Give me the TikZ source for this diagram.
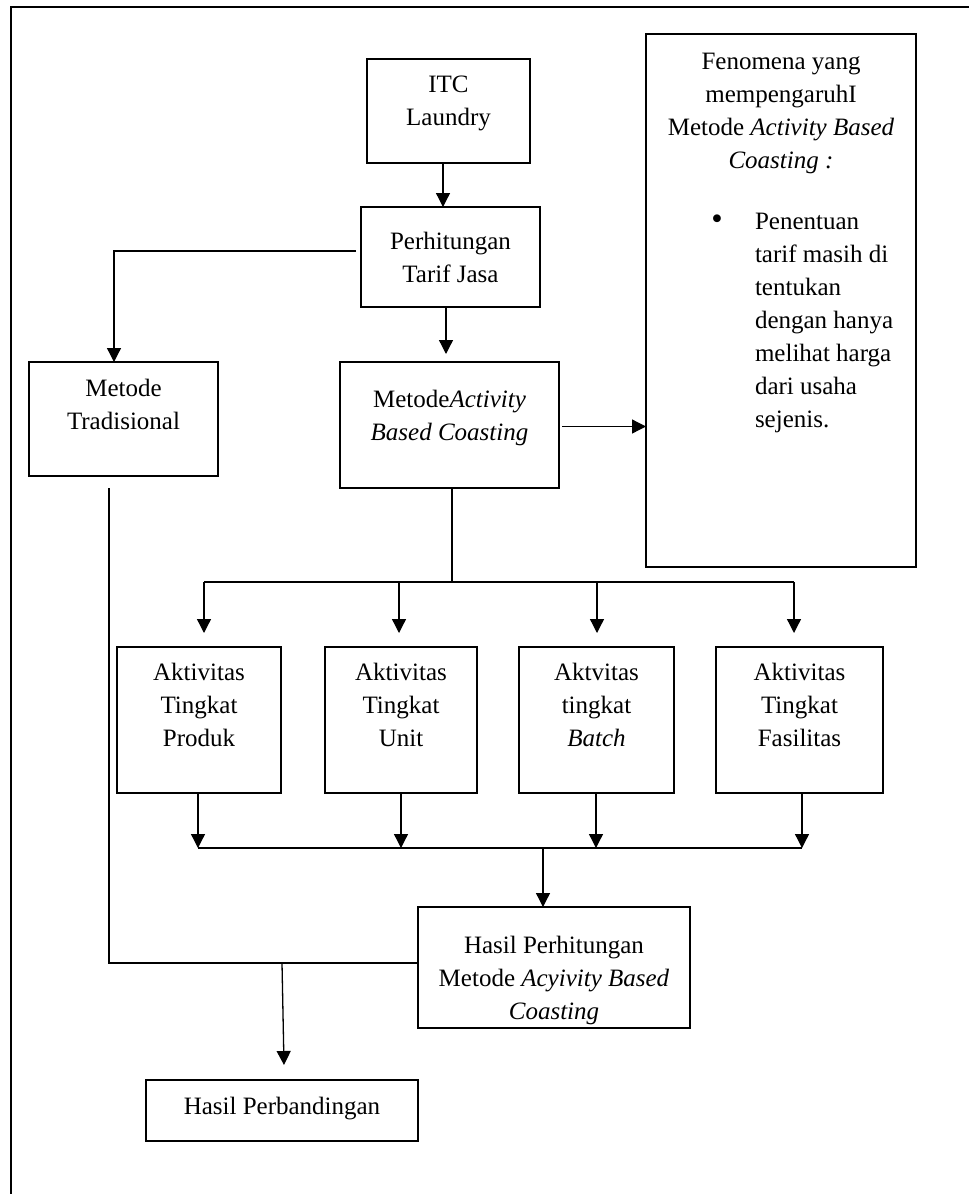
\documentclass[tikz,border=0pt]{standalone}
\usepackage{fontspec}
\setmainfont{Liberation Serif}
\usetikzlibrary{arrows.meta}
\newcommand\boxtxt[4]{\parbox[c][#2][t]{#1}{\centering\rule{0pt}{#3}#4\par}}
\begin{document}
\begin{tikzpicture}[x=1pt,y=-1pt,
  box/.style={draw, line width=1.3pt, inner sep=0pt, outer sep=0pt, font=\fontsize{25}{33}\selectfont},
  arr/.style={line width=1.3pt, -{Triangle[length=14pt,width=14pt]}},
  ln/.style={line width=1.3pt},
  frame/.style={line width=2.4pt}]
\useasboundingbox (0,0) rectangle (969,1194);
% frame
\draw[frame] (10,7) -- (969,7);
\draw[line width=1.6pt] (11,6) -- (11,1194);
% boxes
\node[box] (itc) at (448.5,111) {\boxtxt{163pt}{104pt}{33.3pt}{ITC\\Laundry}};
\node[box] (perh) at (450.5,257) {\boxtxt{179pt}{100pt}{42.5pt}{Perhitungan\\Tarif Jasa}};
\node[box] (trad) at (123.5,419) {\boxtxt{189pt}{114pt}{34pt}{Metode\\Tradisional}};
\node[box] (abc) at (449.5,425) {\boxtxt{219pt}{126pt}{45.6pt}{Metode\textit{Activity}\\\textit{Based Coasting}}};
\node[box] (fen) at (781,300.5) {\parbox[c][533pt][t]{270pt}{{\centering\rule{0pt}{35pt}Fenomena yang\\mempengaruhI\\Metode \textit{Activity Based}\\\textit{Coasting :}\par}\vspace{28.6pt}{\raggedright\leftskip=109pt\relax\leavevmode\llap{\makebox[0pt]{\scalebox{1.3}{\textbullet}}\hspace{38pt}}Penentuan\\tarif masih di\\tentukan\\dengan hanya\\melihat harga\\dari usaha\\sejenis.\par}}};
\node[box] (a1) at (199,720) {\boxtxt{164pt}{146pt}{33pt}{Aktivitas\\Tingkat\\Produk}};
\node[box] (a2) at (401,720) {\boxtxt{152pt}{146pt}{33pt}{Aktivitas\\Tingkat\\Unit}};
\node[box] (a3) at (596.5,720) {\boxtxt{155pt}{146pt}{33pt}{Aktvitas\\tingkat\\\textit{Batch}}};
\node[box] (a4) at (799.5,720) {\boxtxt{167pt}{146pt}{33pt}{Aktivitas\\Tingkat\\Fasilitas}};
\node[box] (hp) at (554,967.5) {\boxtxt{272pt}{121pt}{46pt}{Hasil Perhitungan\\Metode \textit{Acyivity Based}\\\textit{Coasting}}};
\node[box] (hb) at (282,1110.5) {\boxtxt{272pt}{61pt}{34pt}{Hasil Perbandingan}};
% junctions
\coordinate (j1) at (452,582);
\coordinate (j2) at (543,848);
\coordinate (j3) at (282,963);
% connectors
\draw[arr] ([xshift=-5.5pt]itc.south) -- ([xshift=-5.5pt]itc.south |- perh.north);
\draw[arr, shorten >=8pt] ([xshift=-4.5pt]perh.south) -- ([xshift=-4.5pt]perh.south |- abc.north);
\draw[arr] ([xshift=-5pt,yshift=6pt]perh.west) -| ([xshift=-9.5pt]trad.north);
\draw[arr, shorten <=3pt] ([yshift=-1.5pt]abc.east) -- ([yshift=-1.5pt]abc.east -| fen.west);
\draw[ln] ([xshift=2.5pt]abc.south) -- (j1);
\draw[ln] ([xshift=5pt]a1.north |- j1) -- ([xshift=-5.5pt]a4.north |- j1);
\draw[arr, shorten >=14pt] ([xshift=5pt]a1.north |- j1) -- ([xshift=5pt]a1.north);
\draw[arr, shorten >=14pt] ([xshift=-2pt]a2.north |- j1) -- ([xshift=-2pt]a2.north);
\draw[arr, shorten >=14pt] ([xshift=0.5pt]a3.north |- j1) -- ([xshift=0.5pt]a3.north);
\draw[arr, shorten >=14pt] ([xshift=-5.5pt]a4.north |- j1) -- ([xshift=-5.5pt]a4.north);
\draw[arr] ([xshift=-1pt]a1.south) -- ([xshift=-1pt]a1.south |- j2);
\draw[arr] (a2.south) -- (a2.south |- j2);
\draw[arr] ([xshift=-0.5pt]a3.south) -- ([xshift=-0.5pt]a3.south |- j2);
\draw[arr] ([xshift=2.5pt]a4.south) -- ([xshift=2.5pt]a4.south |- j2);
\draw[ln] ([xshift=-1pt]a1.south |- j2) -- ([xshift=2.5pt]a4.south |- j2);
\draw[arr] (j2) -- (j2 |- hp.north);
\draw[ln] ([xshift=-14.5pt,yshift=-12pt]trad.south) |- ([yshift=4.5pt]hp.west);
\draw[arr] (j3) -- ([xshift=2pt,yshift=15pt]hb.north);
\end{tikzpicture}
\end{document}
